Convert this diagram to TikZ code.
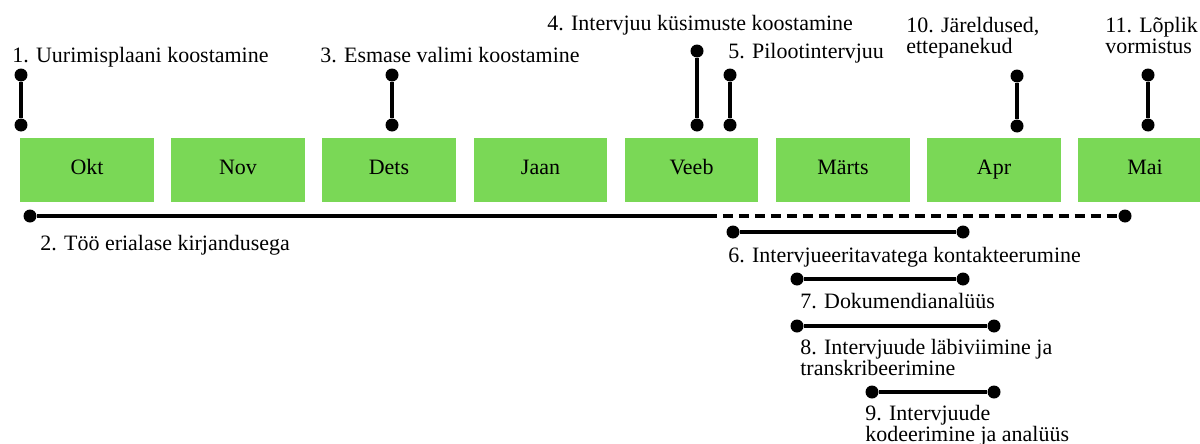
\documentclass[tikz,border=0pt]{standalone}
\usepackage{fontspec}
\setmainfont{Liberation Serif}
\newfontfamily\tnr{Liberation Serif}
\usetikzlibrary{positioning}
\definecolor{G1}{RGB}{122,216,86}

\tikzset{
  month/.style={fill=G1, minimum width=2.68cm, minimum height=1.28cm, inner sep=0pt, text height=1.6ex, text depth=0.4ex, font=\tnr\fontsize{12.5}{11.5}\selectfont},
  lbl/.style={anchor=base west, inner sep=0pt, font=\tnr\fontsize{12.5}{11.5}\selectfont},
  dot/.style={circle, fill=black, inner sep=0pt, minimum size=0.26cm},
  pin/.style={line width=2.2pt},
  bar/.style={line width=2pt},
}

\begin{document}
\begin{tikzpicture}[x=0.02cm, y=-0.02cm]
      \clip (0,0) rectangle (1200,443);
      % months
      \node[month] (okt) at (87,170) {Okt};
      \node[month] (nov) at (238,170) {Nov};
      \node[month] (dets) at (389,170) {Dets};
      \node[month] (jaan) at (540.5,170) {Jaan};
      \node[month] (veeb) at (691.5,170) {Veeb};
      \node[month] (marts) at (843,170) {Märts};
      \node[month] (apr) at (994,170) {Apr};
      \node[month] (mai) at (1145,170) {Mai};
      % one-off steps above
      \node[dot] (s1a) at (21,75) {};   \node[dot] (s1b) at (21,125) {};
      \node[dot] (s3a) at (392,75) {};  \node[dot] (s3b) at (392,125) {};
      \node[dot] (s4a) at (697,51) {};  \node[dot] (s4b) at (697,125) {};
      \node[dot] (s5a) at (730,75) {};  \node[dot] (s5b) at (730,125) {};
      \node[dot] (s10a) at (1017,76) {}; \node[dot] (s10b) at (1017,126) {};
      \node[dot] (s11a) at (1148,75) {}; \node[dot] (s11b) at (1148,125) {};
      \draw[pin] (s1a) -- (s1b);
      \draw[pin] (s3a) -- (s3b);
      \draw[pin] (s4a) -- (s4b);
      \draw[pin] (s5a) -- (s5b);
      \draw[pin] (s10a) -- (s10b);
      \draw[pin] (s11a) -- (s11b);
      \node[lbl] (l1) at (12,62) {1. Uurimisplaani koostamine};
      \node[lbl] (l3) at (320,62) {3. Esmase valimi koostamine};
      \node[lbl] (l4) at (547,30) {4. Intervjuu küsimuste koostamine};
      \node[lbl] (l5) at (728,58) {5. Pilootintervjuu};
      \node[lbl, align=left] (l10) at (906,53) {10. Järeldused,\\ettepanekud};
      \node[lbl, align=left] (l11) at (1105,53) {11. Lõplik\\vormistus};
      % periods below
      \node[dot] (s2a) at (30,216) {};
      \coordinate (s2m) at (707,216);
      \node[dot] (s2b) at (1125,216) {};
      \draw[bar] (s2a) -- (s2m);
      \draw[bar, dash pattern=on 5.7pt off 3.4pt] (s2m) -- (s2b);
      \node[lbl] (l2) at (40,250) {2. Töö erialase kirjandusega};
      \node[dot] (s6a) at (733,232) {}; \node[dot] (s6b) at (963,232) {};
      \draw[bar] (s6a) -- (s6b);
      \node[lbl] (l6) at (728,262) {6. Intervjueeritavatega kontakteerumine};
      \node[dot] (s7a) at (797,279) {}; \node[dot] (s7b) at (963,279) {};
      \draw[bar] (s7a) -- (s7b);
      \node[lbl] (l7) at (800,308) {7. Dokumendianalüüs};
      \node[dot] (s8a) at (797,326) {}; \node[dot] (s8b) at (994,326) {};
      \draw[bar] (s8a) -- (s8b);
      \node[lbl, align=left] (l8) at (800,375) {8. Intervjuude läbiviimine ja\\transkribeerimine};
      \node[dot] (s9a) at (872,392) {}; \node[dot] (s9b) at (994,392) {};
      \draw[bar] (s9a) -- (s9b);
      \node[lbl, align=left] (l9) at (865,441) {9. Intervjuude\\kodeerimine ja analüüs};
    \end{tikzpicture}
\end{document}
